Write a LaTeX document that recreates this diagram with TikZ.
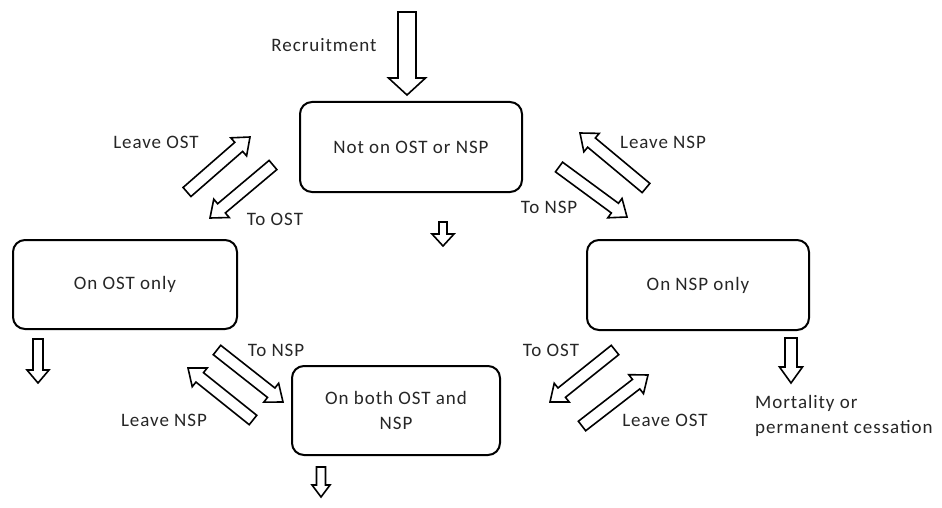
\documentclass[tikz,border=0pt]{standalone}
\usepackage{fontspec}
\setmainfont{Carlito}[LetterSpace=5]
\usetikzlibrary{calc}
\tikzset{
  state/.style={draw=black, line width=2pt, rounded corners=12pt, align=center,
    font=\fontsize{19}{25}\selectfont, text=black!85},
  lbl/.style={font=\fontsize{19}{25}\selectfont, text=black!85, inner sep=0pt},
  blockarr/.style={draw=black, line width=1.6pt, fill=white, line join=miter},
}
% #1 from, #2 to, #3 shaft half width, #4 head half width, #5 head length
\newcommand{\blockarrow}[5]{%
  \draw[blockarr] ($(#1)!#3!90:(#2)$)
    -- ($(#2)!#5!(#1)!#3!-90:(#1)$)
    -- ($(#2)!#5!(#1)!#4!-90:(#1)$)
    -- (#2)
    -- ($(#2)!#5!(#1)!#4!90:(#1)$)
    -- ($(#2)!#5!(#1)!#3!90:(#1)$)
    -- ($(#1)!#3!-90:(#2)$) -- cycle;}
\begin{document}
\begin{tikzpicture}[x=1pt,y=-1pt]
\useasboundingbox[fill=white] (0,0) rectangle (942,508);

% states
\node[state, minimum width=222pt, minimum height=90pt] (none) at (411,147) {Not on OST or NSP};
\node[state, minimum width=224pt, minimum height=89pt] (ost) at (125,284.5) {On OST only};
\node[state, minimum width=222pt, minimum height=90pt] (nsp) at (698,285) {On NSP only};
\node[state, minimum width=208pt, minimum height=89pt] (both) at (396,410.5) {On both OST and\\NSP};

% arrow end points
\coordinate (recA) at (407,12);   \coordinate (recB) at (407,95);
\coordinate (dnA) at (443,222);   \coordinate (dnB) at (443,246);
\coordinate (ostdA) at (38,339);  \coordinate (ostdB) at (38,383);
\coordinate (nspdA) at (791,338); \coordinate (nspdB) at (791,383);
\coordinate (bothdA) at (321,467);\coordinate (bothdB) at (321,497);

\coordinate (lvOstA) at (187,192); \coordinate (lvOstB) at (250,137);
\coordinate (toOstA) at (273,165); \coordinate (toOstB) at (210,218);
\coordinate (lvNspA) at (646,188); \coordinate (lvNspB) at (580,133);
\coordinate (toNspA) at (559,167); \coordinate (toNspB) at (627,217);

\coordinate (bToNspA) at (217,350); \coordinate (bToNspB) at (283,402);
\coordinate (bLvNspA) at (253,420); \coordinate (bLvNspB) at (188,368);
\coordinate (bToOstA) at (615,350); \coordinate (bToOstB) at (550,402);
\coordinate (bLvOstA) at (582,426); \coordinate (bLvOstB) at (648,375);

% block arrows
\blockarrow{recA}{recB}{9pt}{18.5pt}{17pt}
\blockarrow{dnA}{dnB}{4pt}{11pt}{12pt}
\blockarrow{ostdA}{ostdB}{5pt}{11pt}{13pt}
\blockarrow{nspdA}{nspdB}{6pt}{11.5pt}{16pt}
\blockarrow{bothdA}{bothdB}{4.5pt}{9pt}{12pt}

\blockarrow{lvOstA}{lvOstB}{6pt}{12pt}{15pt}
\blockarrow{toOstA}{toOstB}{6pt}{12pt}{15pt}
\blockarrow{lvNspA}{lvNspB}{6pt}{12pt}{15pt}
\blockarrow{toNspA}{toNspB}{6pt}{12pt}{15pt}
\blockarrow{bToNspA}{bToNspB}{6pt}{12pt}{15pt}
\blockarrow{bLvNspA}{bLvNspB}{6pt}{12pt}{15pt}
\blockarrow{bToOstA}{bToOstB}{6pt}{12pt}{15pt}
\blockarrow{bLvOstA}{bLvOstB}{6pt}{12pt}{15pt}

% labels
\node[lbl] (recl) at (324,45) {Recruitment};
\node[lbl] (l1) at (156,142) {Leave OST};
\node[lbl] (l2) at (275,219) {To OST};
\node[lbl] (l3) at (663,142) {Leave NSP};
\node[lbl] (l4) at (549,207) {To NSP};
\node[lbl] (l5) at (276,350) {To NSP};
\node[lbl] (l6) at (164,420) {Leave NSP};
\node[lbl] (l7) at (551,350) {To OST};
\node[lbl] (l8) at (665,420) {Leave OST};
\node[lbl, anchor=west, align=left] (mort) at (755,415.5) {Mortality or\\permanent cessation};
\end{tikzpicture}
\end{document}
